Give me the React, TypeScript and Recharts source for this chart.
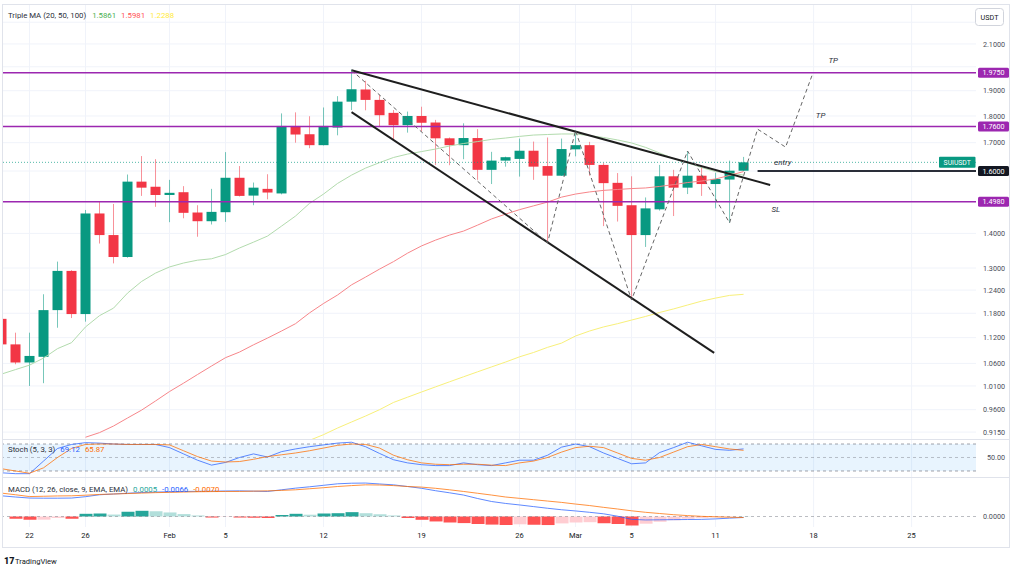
import React from 'react';
import {
  ComposedChart, Bar, Line, XAxis, YAxis, CartesianGrid,
  ReferenceLine, ReferenceArea, ReferenceDot, Cell,
} from 'recharts';

const FONT = 'Roboto, "Liberation Sans", Arial, sans-serif';
const UP = '#089981';
const DOWN = '#f23645';
const PURPLE = '#9c27b0';
const GRID = '#f0f3fa';
const TEXT = '#131722';
const AXIS_TEXT = '#4a4e59';

// x = day counted from Jan 20 (2024)
const tickDays = [2, 6, 12, 16, 23, 30, 37, 41, 45, 51, 58, 65];
const tickLabels = ['22', '26', 'Feb', '5', '12', '19', '26', 'Mar', '5', '11', '18', '25'];
const X_MIN = 0.107;
const X_MAX = 69.6;

// SUIUSDT daily candles
const opens = [1.166, 1.104, 1.062, 1.075, 1.188, 1.292, 1.178, 1.461, 1.395, 1.331, 1.564, 1.547, 1.520, 1.529, 1.464, 1.437, 1.465, 1.577, 1.518, 1.540, 1.525, 1.762, 1.731, 1.691, 1.756, 1.856, 1.905, 1.863, 1.812, 1.765, 1.800, 1.775, 1.716, 1.691, 1.717, 1.604, 1.636, 1.642, 1.671, 1.617, 1.584, 1.676, 1.691, 1.621, 1.560, 1.487, 1.395, 1.474, 1.582, 1.544, 1.584, 1.556, 1.571, 1.601];
const highs = [1.170, 1.132, 1.132, 1.229, 1.318, 1.294, 1.472, 1.498, 1.491, 1.588, 1.652, 1.641, 1.570, 1.549, 1.487, 1.540, 1.666, 1.617, 1.561, 1.589, 1.810, 1.814, 1.799, 1.833, 1.878, 1.988, 1.941, 1.883, 1.823, 1.817, 1.836, 1.785, 1.719, 1.772, 1.750, 1.667, 1.650, 1.715, 1.704, 1.719, 1.715, 1.745, 1.703, 1.628, 1.593, 1.582, 1.512, 1.621, 1.604, 1.670, 1.617, 1.594, 1.636, 1.649];
const lows = [1.100, 1.058, 1.010, 1.016, 1.144, 1.168, 1.159, 1.370, 1.313, 1.329, 1.517, 1.482, 1.434, 1.446, 1.390, 1.427, 1.435, 1.515, 1.487, 1.506, 1.522, 1.700, 1.680, 1.690, 1.727, 1.823, 1.822, 1.759, 1.710, 1.737, 1.741, 1.621, 1.620, 1.641, 1.570, 1.556, 1.615, 1.581, 1.570, 1.372, 1.583, 1.651, 1.584, 1.422, 1.436, 1.214, 1.360, 1.470, 1.453, 1.523, 1.517, 1.477, 1.432, 1.600];
const closes = [1.104, 1.062, 1.077, 1.188, 1.292, 1.178, 1.461, 1.395, 1.331, 1.564, 1.544, 1.520, 1.527, 1.463, 1.437, 1.466, 1.577, 1.517, 1.544, 1.528, 1.762, 1.730, 1.691, 1.762, 1.856, 1.906, 1.863, 1.803, 1.765, 1.800, 1.774, 1.716, 1.691, 1.717, 1.604, 1.636, 1.648, 1.671, 1.615, 1.584, 1.677, 1.691, 1.621, 1.559, 1.485, 1.395, 1.477, 1.582, 1.544, 1.584, 1.556, 1.573, 1.601, 1.630];

// Triple MA (20, 50, 100)
const ma20 = [1.036, 1.046, 1.056, 1.072, 1.094, 1.108, 1.146, 1.174, 1.193, 1.232, 1.263, 1.286, 1.303, 1.314, 1.322, 1.326, 1.338, 1.357, 1.374, 1.392, 1.422, 1.453, 1.493, 1.523, 1.558, 1.586, 1.610, 1.629, 1.647, 1.659, 1.668, 1.677, 1.688, 1.697, 1.704, 1.712, 1.717, 1.723, 1.728, 1.730, 1.732, 1.732, 1.726, 1.719, 1.710, 1.699, 1.683, 1.663, 1.643, 1.628, 1.612, 1.598, 1.593, 1.5861];
const ma50 = [null, null, null, null, null, null, 0.905, 0.914, 0.927, 0.943, 0.959, 0.978, 0.998, 1.016, 1.035, 1.054, 1.073, 1.086, 1.103, 1.119, 1.136, 1.154, 1.181, 1.205, 1.227, 1.254, 1.275, 1.297, 1.318, 1.342, 1.363, 1.380, 1.395, 1.407, 1.425, 1.444, 1.459, 1.473, 1.485, 1.497, 1.513, 1.523, 1.530, 1.535, 1.538, 1.541, 1.543, 1.548, 1.554, 1.561, 1.566, 1.573, 1.585, 1.5981];
const ma100 = [null, null, null, null, null, null, null, null, null, null, null, null, null, null, null, null, null, null, null, null, null, null, 0.899, 0.910, 0.923, 0.935, 0.947, 0.960, 0.975, 0.986, 0.997, 1.008, 1.019, 1.030, 1.041, 1.052, 1.063, 1.075, 1.085, 1.097, 1.107, 1.124, 1.136, 1.146, 1.154, 1.163, 1.172, 1.182, 1.191, 1.201, 1.211, 1.219, 1.226, 1.2288];

// Stoch (5, 3, 3)
const stochK = [16, 14, 14, 42, 70, 79, 83, 82, 80, 79, 79, 79, 72, 58, 44, 33, 39, 50, 58, 51, 63, 69, 74, 78, 82, 84, 74, 59, 45, 38, 34, 32, 32, 38, 34, 32, 38, 44, 44, 55, 73, 80, 74, 60, 48, 36, 38, 61, 72, 84, 76, 68, 66, 69.12];
const stochD = [25, 20, 15, 27, 50, 70, 79, 80, 80, 79, 79, 79, 78, 65, 52, 42, 40, 41, 46, 52, 56, 60, 65, 71, 77, 80, 79, 71, 55, 45, 38, 35, 34, 35, 35, 33, 32, 38, 42, 50, 62, 72, 75, 72, 60, 48, 44, 50, 62, 74, 79, 74, 69, 65.87];

// MACD (12, 26, close, 9)
const macdLine = [0.138, 0.130, 0.123, 0.122, 0.122, 0.123, 0.132, 0.145, 0.150, 0.155, 0.160, 0.163, 0.165, 0.167, 0.168, 0.169, 0.170, 0.171, 0.169, 0.167, 0.178, 0.189, 0.198, 0.208, 0.218, 0.222, 0.223, 0.217, 0.211, 0.200, 0.188, 0.172, 0.158, 0.143, 0.120, 0.100, 0.087, 0.077, 0.066, 0.055, 0.045, 0.037, 0.028, 0.018, 0.002, -0.019, -0.023, -0.022, -0.021, -0.020, -0.019, -0.016, -0.011, -0.0066];
const signalLine = [0.156, 0.145, 0.133, 0.135, 0.137, 0.138, 0.142, 0.147, 0.150, 0.153, 0.156, 0.159, 0.161, 0.163, 0.165, 0.166, 0.167, 0.167, 0.169, 0.171, 0.174, 0.178, 0.185, 0.192, 0.200, 0.206, 0.211, 0.210, 0.206, 0.200, 0.196, 0.188, 0.178, 0.167, 0.155, 0.143, 0.130, 0.121, 0.112, 0.103, 0.094, 0.083, 0.073, 0.061, 0.050, 0.038, 0.028, 0.020, 0.012, 0.006, 0.001, -0.002, -0.005, -0.0070];
const histValues = [null, -0.015, -0.022, -0.021, -0.010, -0.015, 0.018, 0.020, 0.013, 0.031, 0.038, 0.035, 0.027, 0.016, 0.007, -0.007, -0.002, -0.007, -0.008, -0.010, 0.010, 0.018, 0.012, 0.020, 0.022, 0.029, 0.022, 0.015, 0.007, -0.010, -0.022, -0.033, -0.040, -0.044, -0.050, -0.054, -0.056, -0.052, -0.055, -0.057, -0.046, -0.040, -0.038, -0.045, -0.050, -0.060, -0.048, -0.035, -0.025, -0.015, -0.009, -0.005, -0.002, 0.0005];

// price scale (labels of 2.0 and 2.2 sit under the 1.9750 badge and the USDT box)
const priceTicks = [0.915, 0.96, 1.01, 1.06, 1.12, 1.18, 1.24, 1.3, 1.4, 1.7, 1.8, 1.9, 2.0, 2.1, 2.2];
const coveredTicks = [2.0, 2.2];
const targetLevels = [1.975, 1.76];
const stopLevel = 1.498;
const entryLevel = 1.6;
const entryFromDay = 54;

// drawings
const wedgeUpper = [{ x: 25, y: 1.985 }, { x: 54.9, y: 1.553 }];
const wedgeLower = [{ x: 25, y: 1.815 }, { x: 50.9, y: 1.084 }];
const zigDays = [25, 39, 41, 45, 49, 52, 54, 56, 57.9];
const zigPrices = [1.985, 1.372, 1.745, 1.214, 1.670, 1.432, 1.750, 1.684, 1.965];
const notes = [
  { text: 'TP', day: 59.4, price: 2.029 },
  { text: 'TP', day: 58.5, price: 1.802 },
  { text: 'entry', day: 55.8, price: 1.631 },
  { text: 'SL', day: 55.3, price: 1.475 },
];

const candles = opens.map((o, i) => ({
  i,
  open: o,
  high: highs[i],
  low: lows[i],
  close: closes[i],
  range: [lows[i], highs[i]],
  ma20: ma20[i],
  ma50: ma50[i],
  ma100: ma100[i],
}));
const oscRows = stochK.map((k, i) => ({
  i, k, d: stochD[i], macd: macdLine[i], signal: signalLine[i], hist: histValues[i],
}));
const zigzag = zigDays.map((d, n) => ({ i: d, p: zigPrices[n] }));
const lastClose = closes[closes.length - 1];
const last = (a: (number | null)[]) => a[a.length - 1] as number;

const histColor = (i: number) => {
  const v = histValues[i] as number;
  const prev = histValues[i - 1];
  const rising = prev == null ? false : v > prev;
  if (v >= 0) return rising ? '#26a69a' : '#b2dfdb';
  return rising ? '#ffcdd2' : '#ff5252';
};

const Candle = (props: any) => {
  const { x, y, width, height, payload } = props;
  if (!payload) return null;
  const top = Math.min(y, y + height);
  const h = Math.abs(height);
  const lh = Math.log(payload.high);
  const ll = Math.log(payload.low);
  const py = (v: number) => (lh === ll ? top : top + ((lh - Math.log(v)) / (lh - ll)) * h);
  const up = payload.close >= payload.open;
  const color = up ? UP : DOWN;
  const bTop = py(Math.max(payload.open, payload.close));
  const bBot = py(Math.min(payload.open, payload.close));
  const cx = x + width / 2;
  return (
    <g>
      <line x1={cx} x2={cx} y1={top} y2={top + h} stroke={color} strokeOpacity={0.55} strokeWidth={1} />
      <rect x={x} y={bTop} width={width} height={Math.max(1, bBot - bTop)} fill={color} />
    </g>
  );
};

const PriceTick = (props: any) => {
  const { x, y, payload } = props;
  const v: number = payload.value;
  if (coveredTicks.includes(v)) return <g />;
  const label = v.toFixed(4);
  const bg = v === entryLevel ? TEXT : targetLevels.includes(v) || v === stopLevel ? PURPLE : null;
  if (bg) {
    return (
      <g>
        <rect x={x + 2} y={y - 5} width={31} height={10} fill={bg} rx={1.5} />
        <text x={x + 17.5} y={y} dy="0.36em" textAnchor="middle" fontSize={7.2} fill="#fff" fontFamily={FONT}>{label}</text>
      </g>
    );
  }
  return (
    <text x={x + 29} y={y} dy="0.36em" textAnchor="end" fontSize={7.2} fill={AXIS_TEXT} fontFamily={FONT}>{label}</text>
  );
};

const makeTick = (digits: number) => (props: any) => {
  const { x, y, payload } = props;
  return (
    <text x={x + 29} y={y} dy="0.36em" textAnchor="end" fontSize={7.2} fill={AXIS_TEXT} fontFamily={FONT}>
      {Number(payload.value).toFixed(digits)}
    </text>
  );
};

const SymbolBadge = (props: any) => {
  const vb = props.viewBox;
  if (!vb) return null;
  const right = vb.x + vb.width;
  return (
    <g>
      <rect x={right - 37} y={vb.y - 5.5} width={36.5} height={11} fill={UP} rx={1} />
      <text x={right - 18.8} y={vb.y} dy="0.36em" textAnchor="middle" fontSize={6.8} fill="#fff" fontFamily={FONT}>SUIUSDT</text>
    </g>
  );
};

const noteLabel = (text: string) => ({
  value: text, position: 'center' as const, fill: '#2a2e39', fontSize: 8, fontStyle: 'italic', fontFamily: FONT,
});

export default function App() {
  const allPriceTicks = [...priceTicks, stopLevel, entryLevel, ...targetLevels];
  return (
    <div style={{ position: 'absolute', left: 0, top: 0, width: 1012, height: 571, background: '#fff', overflow: 'hidden', fontFamily: FONT }}>
      {/* price pane */}
      <div style={{ position: 'absolute', left: 0, top: 0 }}>
        <ComposedChart width={1012} height={439} data={candles} margin={{ top: 4, right: 0, bottom: 0, left: 3 }}>
          <CartesianGrid stroke={GRID} horizontalValues={allPriceTicks} verticalValues={tickDays} />
          <XAxis dataKey="i" type="number" domain={[X_MIN, X_MAX]} allowDataOverflow ticks={tickDays} hide />
          <YAxis
            orientation="right" scale="log" domain={[0.9016, 2.2875]} allowDataOverflow width={36}
            ticks={allPriceTicks} interval={0} tickSize={0} tickMargin={0} axisLine={false} tickLine={false}
            tick={PriceTick}
          />
          <Line dataKey="ma20" stroke="#b2dbad" strokeWidth={1} dot={false} isAnimationActive={false} />
          <Line dataKey="ma50" stroke="#f7868a" strokeWidth={1} dot={false} isAnimationActive={false} />
          <Line dataKey="ma100" stroke="#f8f07a" strokeWidth={1} dot={false} isAnimationActive={false} />
          <Bar dataKey="range" barSize={10} shape={Candle} isAnimationActive={false} />
          <ReferenceLine y={lastClose} stroke={UP} strokeDasharray="1 2" strokeOpacity={0.7} label={SymbolBadge} />
          {targetLevels.map((v) => (
            <ReferenceLine key={v} y={v} stroke={PURPLE} strokeWidth={1.5} />
          ))}
          <ReferenceLine y={stopLevel} stroke={PURPLE} strokeWidth={1.5} />
          <ReferenceLine segment={[{ x: entryFromDay, y: entryLevel }, { x: X_MAX, y: entryLevel }]} stroke="#2a2e39" strokeWidth={2} />
          <ReferenceLine segment={wedgeUpper} stroke="#1e1e1e" strokeWidth={2} />
          <ReferenceLine segment={wedgeLower} stroke="#1e1e1e" strokeWidth={2} />
          <Line data={zigzag} dataKey="p" stroke="#666" strokeWidth={1} strokeDasharray="4 3" dot={false} isAnimationActive={false} />
          {notes.map((n) => (
            <ReferenceDot key={n.text + n.day} x={n.day} y={n.price} r={1} fill="none" stroke="none" label={noteLabel(n.text)} />
          ))}
        </ComposedChart>
      </div>

      {/* stochastic pane */}
      <div style={{ position: 'absolute', left: 0, top: 440 }}>
        <ComposedChart width={1012} height={38} data={oscRows} margin={{ top: 0, right: 0, bottom: 0, left: 3 }}>
          <CartesianGrid stroke={GRID} horizontal={false} verticalValues={tickDays} />
          <XAxis dataKey="i" type="number" domain={[X_MIN, X_MAX]} allowDataOverflow ticks={tickDays} hide />
          <YAxis
            orientation="right" domain={[4.4, 88.9]} allowDataOverflow width={36} ticks={[50]} interval={0}
            tickSize={0} tickMargin={0} axisLine={false} tickLine={false} tick={makeTick(2)}
          />
          <ReferenceArea y1={20} y2={80} fill="#2196f3" fillOpacity={0.1} stroke="none" />
          <ReferenceLine y={80} stroke="#787b86" strokeDasharray="3 3" strokeOpacity={0.7} />
          <ReferenceLine y={50} stroke="#787b86" strokeDasharray="3 3" strokeOpacity={0.45} />
          <ReferenceLine y={20} stroke="#787b86" strokeDasharray="3 3" strokeOpacity={0.7} />
          <Line dataKey="k" stroke="#2962ff" strokeOpacity={0.75} strokeWidth={1} dot={false} isAnimationActive={false} />
          <Line dataKey="d" stroke="#ff6d00" strokeOpacity={0.75} strokeWidth={1} dot={false} isAnimationActive={false} />
        </ComposedChart>
      </div>

      {/* MACD pane + time axis */}
      <div style={{ position: 'absolute', left: 0, top: 478 }}>
        <ComposedChart width={1012} height={69} data={oscRows} margin={{ top: 0, right: 0, bottom: 0, left: 3 }}>
          <CartesianGrid stroke={GRID} horizontal={false} verticalValues={tickDays} />
          <XAxis
            dataKey="i" type="number" domain={[X_MIN, X_MAX]} allowDataOverflow ticks={tickDays} interval={0}
            height={20} axisLine={false} tickLine={false} tickSize={0} tickMargin={6}
            tick={{ fontSize: 7.5, fill: TEXT, fontFamily: FONT }}
            tickFormatter={(v: number) => tickLabels[tickDays.indexOf(v)]}
          />
          <YAxis
            orientation="right" domain={[-0.07, 0.2567]} allowDataOverflow width={36} ticks={[0]} interval={0}
            tickSize={0} tickMargin={0} axisLine={false} tickLine={false} tick={makeTick(4)}
          />
          <ReferenceLine y={0} stroke="#787b86" strokeDasharray="3 3" strokeOpacity={0.5} />
          <Bar dataKey="hist" barSize={13} isAnimationActive={false}>
            {oscRows.map((r) => (
              <Cell key={r.i} fill={r.hist == null ? 'none' : histColor(r.i)} />
            ))}
          </Bar>
          <Line dataKey="macd" stroke="#2962ff" strokeOpacity={0.75} strokeWidth={1} dot={false} isAnimationActive={false} />
          <Line dataKey="signal" stroke="#ff6d00" strokeOpacity={0.75} strokeWidth={1} dot={false} isAnimationActive={false} />
        </ComposedChart>
      </div>

      {/* frame, legends, badges */}
      <svg width={1012} height={571} style={{ position: 'absolute', left: 0, top: 0, pointerEvents: 'none' }} fontFamily={FONT}>
        <rect x={2.5} y={4.5} width={1007} height={543} fill="none" stroke="#e0e3eb" />
        <line x1={3} x2={1009} y1={439.5} y2={439.5} stroke="#e0e3eb" />
        <line x1={3} x2={1009} y1={477.5} y2={477.5} stroke="#e0e3eb" />
        <rect x={975.5} y={8.5} width={28} height={17} rx={3} fill="#fff" stroke="#d1d4dc" />
        <text x={989.5} y={17} dy="0.36em" textAnchor="middle" fontSize={7.2} fill={TEXT}>USDT</text>

        <text x={8} y={18} fontSize={7.8} fill="#2a2e39">
          Triple MA (20, 50, 100)
          <tspan dx={6} fill="#4caf50">{last(ma20).toFixed(4)}</tspan>
          <tspan dx={5} fill="#ff5252">{last(ma50).toFixed(4)}</tspan>
          <tspan dx={5} fill="#ffeb3b">{last(ma100).toFixed(4)}</tspan>
        </text>
        <text x={8} y={452} fontSize={7.8} fill="#2a2e39">
          Stoch (5, 3, 3)
          <tspan dx={5} fill="#2962ff">{last(stochK).toFixed(2)}</tspan>
          <tspan dx={5} fill="#ff6d00">{last(stochD).toFixed(2)}</tspan>
        </text>
        <text x={8} y={492} fontSize={7.8} fill="#2a2e39">
          MACD (12, 26, close, 9, EMA, EMA)
          <tspan dx={5} fill="#26a69a">{last(histValues).toFixed(4)}</tspan>
          <tspan dx={5} fill="#2962ff">{last(macdLine).toFixed(4)}</tspan>
          <tspan dx={5} fill="#ff6d00">{last(signalLine).toFixed(4)}</tspan>
        </text>

        <text x={4} y={564} fontSize={9} fontWeight={900} fill={TEXT}>17</text>
        <text x={15} y={564} fontSize={7.6} fill={TEXT}>TradingView</text>
      </svg>
    </div>
  );
}
